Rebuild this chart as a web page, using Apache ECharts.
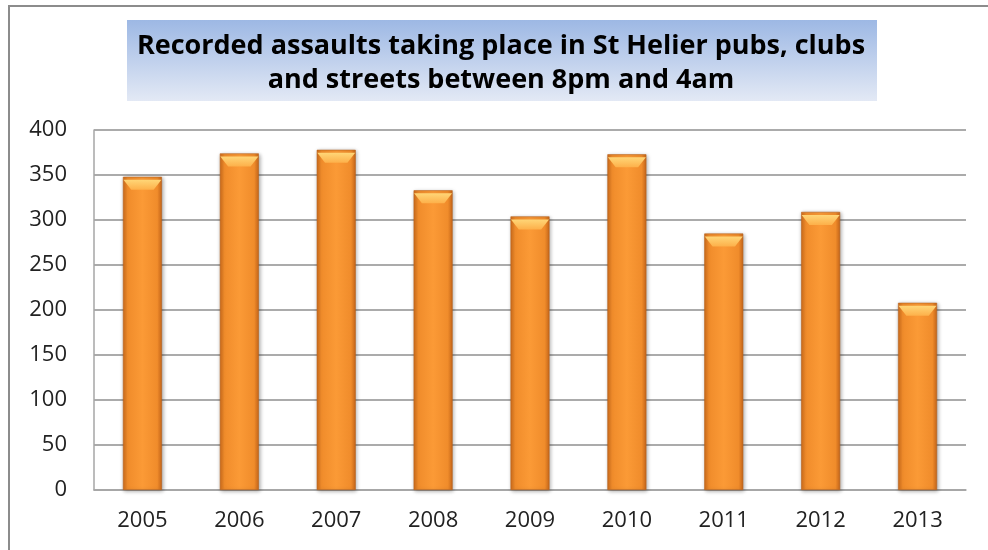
<!DOCTYPE html>
<html>
<head>
<meta charset="utf-8">
<script src="https://cdn.jsdelivr.net/npm/echarts@6/dist/echarts.min.js"></script>
<style>
  html, body { margin: 0; padding: 0; background: #fff; }
  #chart { width: 988px; height: 550px; }
</style>
</head>
<body>
<div id="chart"></div>
<script>
// data
const years = ['2005', '2006', '2007', '2008', '2009', '2010', '2011', '2012', '2013']
const assaults = [348, 374, 378, 333, 304, 373, 285, 309, 208]
const yTicks = [0, 50, 100, 150, 200, 250, 300, 350, 400]
const titleText = 'Recorded assaults taking place in St Helier pubs, clubs\nand streets between 8pm and 4am'

const chart = echarts.init(document.getElementById('chart'))

const barFill = new echarts.graphic.LinearGradient(0, 0, 1, 0, [
  { offset: 0, color: '#cf6d1c' },
  { offset: 0.12, color: '#f08c2b' },
  { offset: 0.5, color: '#fb9a36' },
  { offset: 0.88, color: '#f08c2b' },
  { offset: 1, color: '#c8671a' }
])

const option = {
  animation: false,
  textStyle: { fontFamily: 'Open Sans, Liberation Sans, sans-serif' },
  graphic: [
    {
      type: 'rect',
      shape: { x: 9, y: 6, width: 1000, height: 600 },
      style: { fill: 'none', stroke: '#8c8c8c', lineWidth: 2 },
      silent: true,
      z: -1
    },
    {
      // title box
      type: 'rect',
      shape: { x: 127, y: 20, width: 750, height: 81 },
      style: {
        fill: new echarts.graphic.LinearGradient(0, 0, 0, 1, [
          { offset: 0, color: '#9db8e4' },
          { offset: 1, color: '#e3e9f5' }
        ])
      },
      silent: true,
      z: 0
    },
    {
      type: 'text',
      x: 501,
      y: 63,
      style: {
        text: titleText,
        align: 'center',
        verticalAlign: 'middle',
        fontFamily: 'Open Sans, Liberation Sans, sans-serif',
        fontSize: 27,
        fontWeight: 'bold',
        lineHeight: 34,
        fill: '#000'
      },
      silent: true,
      z: 1
    }
  ],
  grid: { left: 94, right: 22, top: 130, bottom: 60, containLabel: false },
  xAxis: {
    type: 'category',
    data: years,
    axisTick: { show: false },
    axisLine: { lineStyle: { color: '#a6a6a6', width: 1.5 } },
    axisLabel: { color: '#222', fontSize: 22, margin: 20, fontFamily: 'Open Sans, sans-serif' }
  },
  yAxis: {
    type: 'value',
    min: yTicks[0],
    max: yTicks[yTicks.length - 1],
    interval: 50,
    axisLine: { show: true, lineStyle: { color: '#a6a6a6', width: 1.5 } },
    axisTick: { show: false },
    splitLine: { lineStyle: { color: '#8f8f8f', width: 1.5 } },
    axisLabel: { color: '#222', fontSize: 22, margin: 27, fontFamily: 'Open Sans, sans-serif' }
  },
  series: [
    {
      type: 'bar',
      data: assaults,
      barWidth: 39,
      itemStyle: {
        color: barFill,
        borderColor: '#b8631d',
        borderWidth: 0.6,
        shadowColor: 'rgba(0,0,0,0.35)',
        shadowBlur: 4,
        shadowOffsetX: 1,
        shadowOffsetY: 1
      },
      z: 2
    },
    {
      // bevelled highlight on the top of each bar
      type: 'pictorialBar',
      data: assaults,
      symbol: 'path://M0,0 L39,0 L31,10 L8,10 Z',
      symbolSize: [38, 10],
      symbolPosition: 'end',
      symbolOffset: [0, 3],
      itemStyle: {
        color: new echarts.graphic.LinearGradient(0, 0, 0, 1, [
          { offset: 0, color: '#ffd677' },
          { offset: 1, color: '#fdb04a' }
        ])
      },
      silent: true,
      z: 3
    }
  ]
}

chart.setOption(option)
</script>
</body>
</html>
